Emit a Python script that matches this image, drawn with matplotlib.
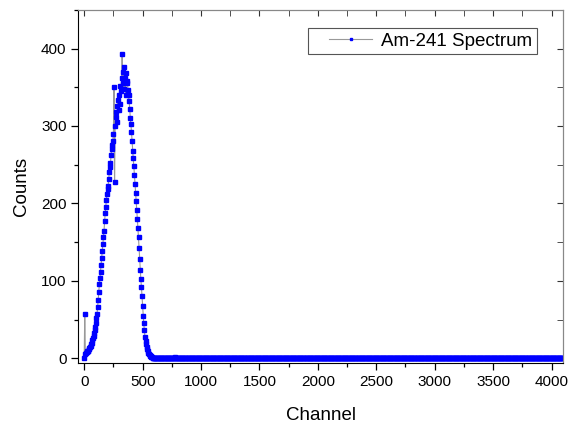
import numpy as np
import matplotlib.pyplot as plt
from matplotlib.ticker import MultipleLocator
from matplotlib.legend_handler import HandlerLine2D

plt.rcParams['font.family'] = ['Liberation Sans', 'DejaVu Sans']

# Channels sampled every 5 channels
step = 5
channels = np.arange(0, 4096, step)

# Counts read from the peak region (channels 0..620, step 5)
peak_counts = [
    0, 57, 6, 7, 8, 9, 10, 9, 12, 13,
    14, 16, 18, 20, 23, 26, 29, 33, 37, 41,
    46, 52, 57, 66, 75, 86, 96, 104, 112, 121,
    130, 139, 148, 156, 165, 177, 188, 196, 204, 212,
    218, 222, 231, 240, 247, 252, 262, 270, 276, 281,
    290, 350, 228, 300, 312, 318, 305, 326, 333, 321,
    340, 328, 352, 345, 362, 393, 356, 370, 348, 376,
    362, 340, 368, 355, 358, 346, 340, 332, 322, 310,
    302, 292, 280, 268, 258, 248, 237, 225, 214, 203,
    192, 180, 168, 156, 142, 128, 114, 102, 92, 80,
    68, 55, 45, 36, 28, 22, 18, 15, 12, 9,
    7, 6, 4, 3, 3, 2, 2, 1, 1, 1,
    0, 0, 0, 0, 0,
]

# Everything above the peak is empty except one small blip
blip_channel = 780
blip_count = 2

counts = np.zeros(len(channels))
counts[:len(peak_counts)] = peak_counts
counts[blip_channel // step] = blip_count

fig = plt.figure(figsize=(5.76, 4.26), dpi=100)
ax = fig.add_axes([0.136, 0.148, 0.841, 0.829])

line, = ax.plot(channels, counts, color='#999999', linewidth=0.8,
                marker='s', markersize=3.3, markerfacecolor='#0000ff',
                markeredgecolor='#0000ff', label='Am-241 Spectrum')

ax.set_xlim(-50, 4096)
ax.set_ylim(-6, 450)
ax.xaxis.set_major_locator(MultipleLocator(500))
ax.xaxis.set_minor_locator(MultipleLocator(250))
ax.yaxis.set_major_locator(MultipleLocator(100))
ax.yaxis.set_minor_locator(MultipleLocator(50))

ax.set_xlabel('Channel', fontsize=13.5, labelpad=13)
ax.set_ylabel('Counts', fontsize=13.5, labelpad=8)

ax.tick_params(which='both', direction='out', labelsize=11)
ax.tick_params(which='major', length=5, width=0.9)
ax.tick_params(which='minor', length=3, width=0.9)

# mirrored inward ticks on top and right
top = ax.secondary_xaxis('top')
top.set_xticks(np.arange(0, 4001, 500))
top.xaxis.set_minor_locator(MultipleLocator(250))
top.tick_params(which='both', direction='in', length=4, labeltop=False, color='#333333')
top.spines['top'].set_color('#888888')
right = ax.secondary_yaxis('right')
right.set_yticks(np.arange(0, 401, 100))
right.yaxis.set_minor_locator(MultipleLocator(50))
right.tick_params(which='both', direction='in', length=4, labelright=False, color='#333333')
right.spines['right'].set_color('#888888')

ax.spines['top'].set_color('#888888')
ax.spines['right'].set_color('#888888')

leg = ax.legend(loc='upper right', bbox_to_anchor=(0.946, 0.949), borderaxespad=0,
                fontsize=13.5, fancybox=False, edgecolor='#555555', framealpha=1,
                handlelength=3.2, handletextpad=0.45, borderpad=0.25,
                markerscale=0.55, handler_map={line: HandlerLine2D(xpad=0.9)})
leg.get_frame().set_linewidth(0.8)

plt.savefig('out.png', dpi=100)
